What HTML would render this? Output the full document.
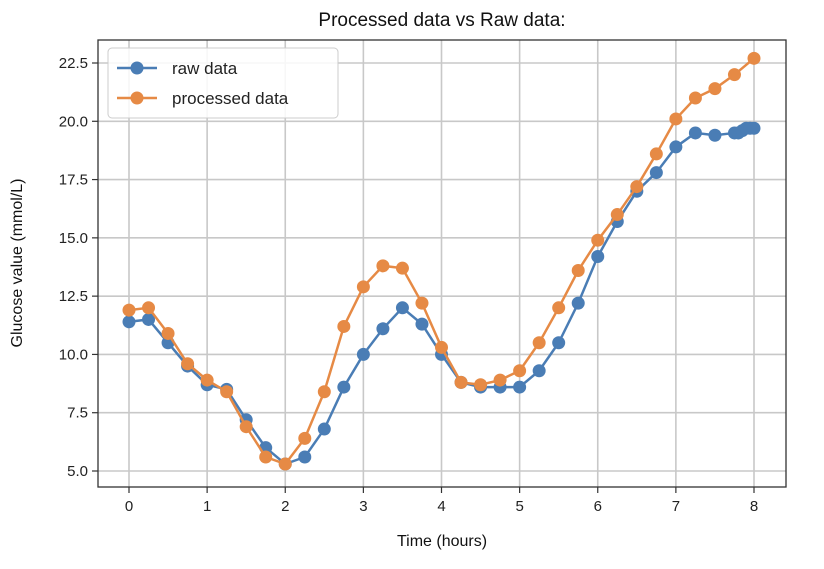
<!DOCTYPE html>
<html><head><meta charset="utf-8"><style>body{margin:0;background:#fff}svg{font-family:"Liberation Sans","DejaVu Sans",sans-serif}</style></head>
<body>
<svg id="chart" width="824" height="564" xmlns="http://www.w3.org/2000/svg">
<rect width="824" height="564" fill="#fff"/>
<g id="grid"></g><g id="series"></g><g id="axes"></g>
</svg>
<script>
const rawX=[0,0.25,0.5,0.75,1,1.25,1.5,1.75,2,2.25,2.5,2.75,3,3.25,3.5,3.75,4,4.25,4.5,4.75,5,5.25,5.5,5.75,6,6.25,6.5,6.75,7,7.25,7.5,7.75,7.8,7.85,7.9,7.95,8];
const rawY=[11.4,11.5,10.5,9.5,8.7,8.5,7.2,6.0,5.3,5.6,6.8,8.6,10.0,11.1,12.0,11.3,10.0,8.8,8.6,8.6,8.6,9.3,10.5,12.2,14.2,15.7,17.0,17.8,18.9,19.5,19.4,19.5,19.5,19.6,19.7,19.7,19.7];
const procX=[0,0.25,0.5,0.75,1,1.25,1.5,1.75,2,2.25,2.5,2.75,3,3.25,3.5,3.75,4,4.25,4.5,4.75,5,5.25,5.5,5.75,6,6.25,6.5,6.75,7,7.25,7.5,7.75,8];
const procY=[11.9,12.0,10.9,9.6,8.9,8.4,6.9,5.6,5.3,6.4,8.4,11.2,12.9,13.8,13.7,12.2,10.3,8.8,8.7,8.9,9.3,10.5,12.0,13.6,14.9,16.0,17.2,18.6,20.1,21.0,21.4,22.0,22.7];
const xTicks=[0,1,2,3,4,5,6,7,8];
const yTicks=[5.0,7.5,10.0,12.5,15.0,17.5,20.0,22.5];
const L=98,R=786,T=40,B=487;
const X=v=>129+v*(754-129)/8;
const Y=v=>471-(v-5)*(471-63)/17.5;
const NS="http://www.w3.org/2000/svg";
function mk(p,tag,a){const e=document.createElementNS(NS,tag);for(const k in a)e.setAttribute(k,a[k]);p.appendChild(e);return e;}
const grid=document.getElementById('grid'),ser=document.getElementById('series'),ax=document.getElementById('axes');
xTicks.forEach(t=>{
 const g=mk(grid,'line',{x1:X(t),x2:X(t),y1:T,y2:B,stroke:'#c8c8c8','stroke-width':1.6});
 
 
 mk(ax,'line',{x1:X(t),x2:X(t),y1:B,y2:B+6,stroke:'#333','stroke-width':1.2});
 const tx=mk(ax,'text',{x:X(t),y:B+24,'text-anchor':'middle','font-size':15,fill:'#222'});
 tx.textContent=t;
 
 
});
yTicks.forEach(t=>{
 const g=mk(grid,'line',{x1:L,x2:R,y1:Y(t),y2:Y(t),stroke:'#c8c8c8','stroke-width':1.6});
 
 
 mk(ax,'line',{x1:L-6,x2:L,y1:Y(t),y2:Y(t),stroke:'#333','stroke-width':1.2});
 const tx=mk(ax,'text',{x:L-10,y:Y(t)+5,'text-anchor':'end','font-size':15,fill:'#222'});
 tx.textContent=t.toFixed(1);
 
 
});
function series(xs,ys,c,name){
 const g=mk(ser,'g',{});
 
 
 mk(g,'polyline',{points:xs.map((x,i)=>X(x)+','+Y(ys[i])).join(' '),fill:'none',stroke:c,'stroke-width':2.5});
 xs.forEach((x,i)=>{const p=mk(g,'circle',{cx:X(x),cy:Y(ys[i]),r:6.5,fill:c});
  
  });
}
series(rawX,rawY,'#4a7db5','raw-data-series');
series(procX,procY,'#e68a45','processed-data-series');
const fr=mk(ax,'rect',{x:L,y:T,width:R-L,height:B-T,fill:'none',stroke:'#333','stroke-width':1.3});


const ti=mk(ax,'text',{x:442,y:26,'text-anchor':'middle','font-size':19,fill:'#111'});
ti.textContent='Processed data vs Raw data:';


const xl=mk(ax,'text',{x:442,y:546,'text-anchor':'middle','font-size':16,fill:'#111'});
xl.textContent='Time (hours)';


const yl=mk(ax,'text',{x:0,y:0,'text-anchor':'middle','font-size':16,fill:'#111',transform:'translate(22,263) rotate(-90)'});
yl.textContent='Glucose value (mmol/L)';


const lg=mk(ax,'g',{});


mk(lg,'rect',{x:108,y:48,width:230,height:70,rx:4,fill:'#fff','fill-opacity':0.85,stroke:'#ccc'});
[['raw data','#4a7db5',68],['processed data','#e68a45',98]].forEach(([n,c,y])=>{
 const e=mk(lg,'g',{});
 
 
 mk(e,'line',{x1:117,x2:157,y1:y,y2:y,stroke:c,'stroke-width':2.5});
 mk(e,'circle',{cx:137,cy:y,r:6.5,fill:c});
 const t=mk(e,'text',{x:172,y:y+6,'font-size':17,fill:'#222'});t.textContent=n;
});
</script>
</body></html>
